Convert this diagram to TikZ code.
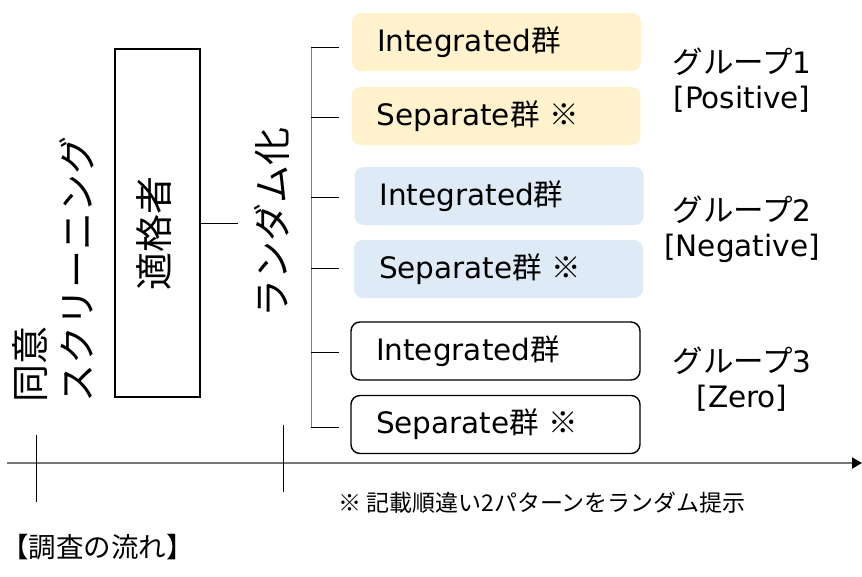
\documentclass[tikz,border=0pt]{standalone}
\usepackage{fontspec}
\setmainfont{DejaVu Sans}
\newfontfamily\jp{Noto Sans CJK JP}
\usetikzlibrary{arrows.meta}
\definecolor{ylw}{HTML}{FFF2CC}
\definecolor{blu}{HTML}{DEEBF7}
\definecolor{axisgray}{HTML}{767676}
\definecolor{brgray}{HTML}{808080}
\begin{document}
\begin{tikzpicture}[x=1pt,y=-1pt,
  gbox/.style={rounded corners=9pt, minimum width=289pt, minimum height=58pt,
    text width=239pt, inner xsep=25pt, inner ysep=0pt, align=left,
    font=\fontsize{29.5}{34}\selectfont},
  yelbox/.style={gbox, fill=ylw},
  blubox/.style={gbox, fill=blu},
  whtbox/.style={gbox, fill=white, draw=black, line width=1.4pt},
  vtext/.style={rotate=90, inner sep=0pt, font=\jp\fontsize{38}{47}\selectfont},
  glabel/.style={align=center, inner sep=0pt, font=\fontsize{29.5}{35}\selectfont},
  conn/.style={draw=black, line width=0.9pt},
  brline/.style={draw=brgray, line width=1pt},
  tickline/.style={draw=black, line width=0.8pt},
  axis/.style={draw=axisgray, line width=2pt}
]
\useasboundingbox (0,0) rectangle (862,576);

% left labels
\node[vtext, align=left] (consent) at (53,269) {同意\\スクリーニング};

% eligible box
\node[draw=black, line width=2pt, minimum width=85pt, minimum height=348pt, inner sep=0pt] (kbox) at (157.5,223) {};
\node[vtext] (kboxtext) at ([shift={(-3,10)}]kbox.center) {適格者};

% randomisation
\node[vtext] (rand) at (272,222) {ランダム化};
\coordinate (rnd) at (238,223);
\draw[conn] (kbox.east |- rnd) -- (rnd);

% group boxes
\node[yelbox] (b1) at (496.5,42) {Integrated{\jp 群}};
\node[yelbox] (b2) at (496,116) {Separate{\jp 群 ※}};
\node[blubox] (b3) at (499,196) {Integrated{\jp 群}};
\node[blubox] (b4) at (498.5,269) {Separate{\jp 群 ※}};
\node[whtbox] (b5) at (495.5,351) {Integrated{\jp 群}};
\node[whtbox] (b6) at (495.5,424.5) {Separate{\jp 群 ※}};

% bracket
\coordinate (v1) at (311,47);
\coordinate (v6) at (311,427);
\draw[brline] (v1) -- (v6);
\foreach \i/\yy in {1/47,2/117,3/197,4/268,5/352,6/427}{
  \coordinate (s\i) at (311,\yy);
  \coordinate (e\i) at (339,\yy);
  \draw[tickline] (s\i) -- (e\i);
}

% group labels
\node[glabel] (g1) at (742,80) {{\jp\fontsize{30.5}{35}\selectfont グループ}1\\{[Positive]}};
\node[glabel] (g2) at (742,229) {{\jp\fontsize{30.5}{35}\selectfont グループ}2\\{[Negative]}};
\node[glabel] (g3) at (742,379) {{\jp\fontsize{30.5}{35}\selectfont グループ}3\\{[Zero]}};

% timeline
\coordinate (ax0) at (7,463);
\coordinate (ax1) at (862,463);
\draw[axis, -{Triangle[length=10pt, width=11pt, color=black, fill=black]}] (ax0) -- (ax1);
\coordinate (t1a) at (36,435);
\coordinate (t1b) at (36,502);
\coordinate (t2a) at (283,425);
\coordinate (t2b) at (283,492);
\draw[tickline] (t1a) -- (t1b);
\draw[tickline] (t2a) -- (t2b);

% notes
\node[anchor=west, inner sep=0pt, font=\jp\fontsize{23}{27}\selectfont] (note) at (338,503) {※ 記載順違い2パターンをランダム提示};
\node[anchor=west, inner sep=0pt, font=\jp\fontsize{27.5}{31}\selectfont] (title) at (1,547) {【調査の流れ】};
\end{tikzpicture}
\end{document}
